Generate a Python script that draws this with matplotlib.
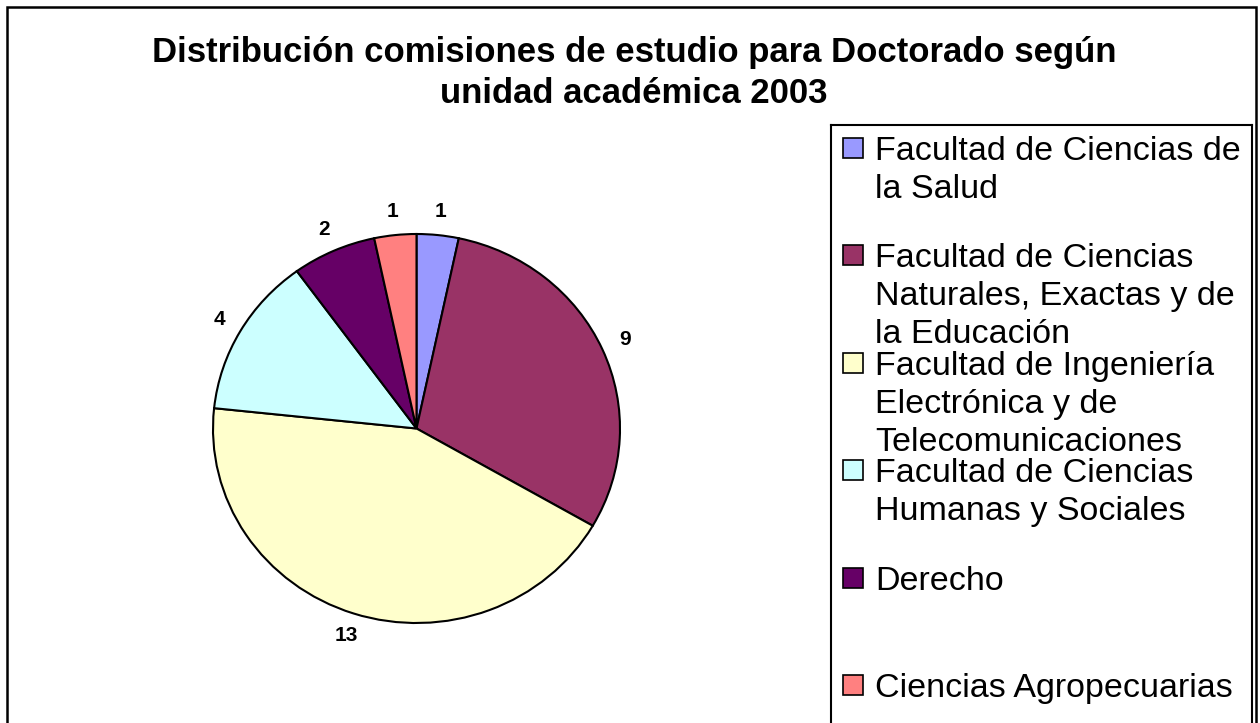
import matplotlib
matplotlib.use('Agg')
import matplotlib.pyplot as plt
from matplotlib.patches import Rectangle

plt.rcParams['font.family'] = ['Liberation Sans', 'DejaVu Sans']

# Data
units = ['Facultad de Ciencias de\nla Salud',
         'Facultad de Ciencias\nNaturales, Exactas y de\nla Educación',
         'Facultad de Ingeniería\nElectrónica y de\nTelecomunicaciones',
         'Facultad de Ciencias\nHumanas y Sociales',
         'Derecho',
         'Ciencias Agropecuarias']
counts = [1, 9, 13, 4, 2, 1]
colors = ['#9999FF', '#993366', '#FFFFCC', '#CCFFFF', '#660066', '#FF8080']

W, H = 1260, 723
fig = plt.figure(figsize=(W / 100, H / 100), dpi=100)

# outer chart border
fig.patches.append(Rectangle((7 / W, -0.05), (1256 - 7) / W, 1.05 - 7 / H,
                             transform=fig.transFigure, fill=False,
                             edgecolor='black', linewidth=1.8))

fig.text(634 / W, 1 - 73 / H,
         'Distribución comisiones de estudio para Doctorado según\nunidad académica 2003',
         ha='center', va='center', fontsize=25, fontweight='bold', linespacing=1.3)

# pie (slightly stretched like the original)
ax = fig.add_axes([213 / W, 1 - 623 / H, 407 / W, 389 / H])
wedges, texts = ax.pie(counts, colors=colors, labels=[str(c) for c in counts],
                       startangle=90, counterclock=False, labeldistance=1.12,
                       wedgeprops=dict(edgecolor='black', linewidth=1.5),
                       textprops=dict(fontsize=15, fontweight='bold'))
for t in texts:
    t.set_ha('center')
    t.set_va('center')
ax.set_aspect('auto')
ax.set_xlim(-1, 1)
ax.set_ylim(-1, 1)

# legend box
lax = fig.add_axes([831 / W, 0, (1252 - 831) / W, 1 - 125 / H])
lax.set_xlim(831, 1252)
lax.set_ylim(H, 125)
lax.set_xticks([])
lax.set_yticks([])
for s in ['left', 'top', 'right']:
    lax.spines[s].set_linewidth(1.5)
lax.spines['bottom'].set_visible(False)

for i, (name, col) in enumerate(zip(units, colors)):
    y = 148 + i * 107.4
    lax.add_patch(Rectangle((843, y - 10), 20, 20, facecolor=col,
                            edgecolor='black', linewidth=1.2))
    lines = name.split('\n')
    for j, line in enumerate(lines):
        lax.text(875, y + 12 + j * 38, line, ha='left', va='baseline',
                 fontsize=24.5)

fig.savefig('out.png', dpi=100)
